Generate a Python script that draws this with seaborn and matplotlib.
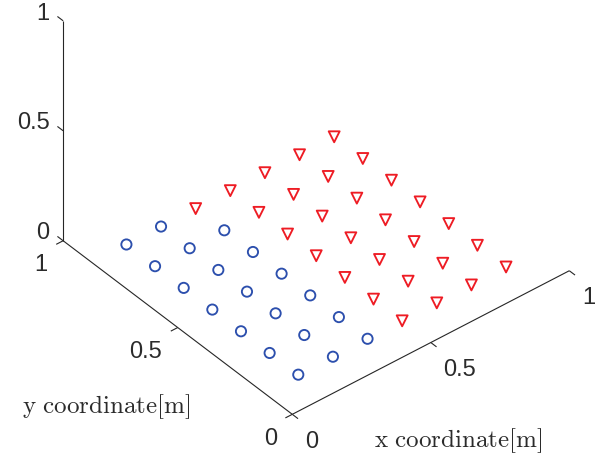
import numpy as np
import matplotlib
matplotlib.use("Agg")
import matplotlib.pyplot as plt
import seaborn as sns
from matplotlib.transforms import offset_copy
from mpl_toolkits.mplot3d import proj3d

sns.set_theme(style="white")
plt.rcParams["font.family"] = ["Liberation Sans", "DejaVu Sans"]
plt.rcParams["mathtext.fontset"] = "cm"

# Node positions on the floor plane (m), grouped by class
circle_x = [0.125, 0.250, 0.375, 0.125, 0.250, 0.375, 0.125, 0.250, 0.375,
            0.125, 0.250, 0.375, 0.125, 0.250, 0.375, 0.125, 0.250, 0.375,
            0.125, 0.250]
circle_y = [0.125, 0.125, 0.125, 0.250, 0.250, 0.250, 0.375, 0.375, 0.375,
            0.500, 0.500, 0.500, 0.625, 0.625, 0.625, 0.750, 0.750, 0.750,
            0.875, 0.875]
circle_z = [0.0] * len(circle_x)

tri_x = [0.500, 0.625, 0.750, 0.875, 0.500, 0.625, 0.750, 0.875,
         0.500, 0.625, 0.750, 0.875, 0.500, 0.625, 0.750, 0.875,
         0.500, 0.625, 0.750, 0.875, 0.500, 0.625, 0.750, 0.875,
         0.375, 0.500, 0.625, 0.750, 0.875]
tri_y = [0.125, 0.125, 0.125, 0.125, 0.250, 0.250, 0.250, 0.250,
         0.375, 0.375, 0.375, 0.375, 0.500, 0.500, 0.500, 0.500,
         0.625, 0.625, 0.625, 0.625, 0.750, 0.750, 0.750, 0.750,
         0.875, 0.875, 0.875, 0.875, 0.875]
tri_z = [0.0] * len(tri_x)

ticks = [0.0, 0.5, 1.0]
tick_labels = ["0", "0.5", "1"]

blue, red = sns.color_palette(["#2c4fad", "#ee1c24"])
axis_color = "#262626"
text_color = "#2b2b2b"

fig = plt.figure(figsize=(6.05, 4.62), dpi=100)
ax = fig.add_axes([0, 0, 1, 1], projection="3d", proj_type="ortho")
ax.view_init(elev=38.8, azim=-129.6)
ax.set_box_aspect((1, 1, 0.785))

ax.scatter(circle_x, circle_y, circle_z, marker="o", s=54, facecolors="none",
           edgecolors=[blue], linewidths=1.35, depthshade=False)
ax.scatter(tri_x, tri_y, tri_z, marker="v", s=62, facecolors="none",
           edgecolors=[red], linewidths=1.35, depthshade=False)

# axis lines: x along y=0, y along x=0, z standing at the back-left corner
line_kw = dict(color=axis_color, lw=0.8, solid_capstyle="butt")
ax.plot([0, 1], [0, 0], [0, 0], **line_kw)
ax.plot([0, 0], [0, 1], [0, 0], **line_kw)
ax.plot([0, 0], [1, 1], [0, 1], **line_kw)

tl = 0.025
for t in ticks:
    ax.plot([t, t], [0, -tl], [0, 0], **line_kw)       # x ticks
    ax.plot([0, -tl], [t, t], [0, 0], **line_kw)       # y ticks
    ax.plot([0, 0], [1, 1 + tl], [t, t], **line_kw)    # z ticks

ax.set_xlim(0, 1)
ax.set_ylim(0, 1)
ax.set_zlim(0, 1)
ax.set_axis_off()
for ttl in (ax.title, ax._left_title, ax._right_title):
    ttl.set_visible(False)

# scale and place the 3D box inside the figure
fig.canvas.draw()
W, H = fig.canvas.get_width_height()
corners = np.array([[0, 0, 0], [1, 0, 0], [0, 1, 0], [0, 1, 1]], dtype=float)
goal_px = np.array([[292.6, 414.2], [569.3, 270.7], [63.3, 240.7], [62.7, 21.0]])
goal = np.column_stack([goal_px[:, 0], H - goal_px[:, 1]])
px, py, _ = proj3d.proj_transform(corners[:, 0], corners[:, 1], corners[:, 2], ax.M)
cur = ax.transData.transform(np.column_stack([px, py]))
cm, gm = cur.mean(0), goal.mean(0)
a = ((cur - cm) * (goal - gm)).sum() / ((cur - cm) ** 2).sum()
b = gm - a * cm
pos = ax.get_position()
L = np.array([pos.x0 * W, pos.y0 * H])
newL = a * L + b
ax.set_position([newL[0] / W, newL[1] / H, a * pos.width, a * pos.height])


def tick_text(x, y, z, s, dx, dy, ha):
    tr = offset_copy(ax.transData, fig=fig, x=dx, y=dy, units="dots")
    ax.text(x, y, z, s, transform=tr, ha=ha, va="center", fontsize=17,
            color=text_color)


for t, lab in zip(ticks, tick_labels):
    tick_text(t, 0, 0, lab, 12.5, -27.5, "left")
    tick_text(0, t, 0, lab, -15.5, -24.5, "right")
    tick_text(0, 1, t, lab, -13.5, 7.3, "right")

fig.text(458 / W, 1 - 441 / H, r"$\mathrm{x\ coordinate[m]}$", ha="center",
         va="center", fontsize=18, color=text_color)
fig.text(106 / W, 1 - 407 / H, r"$\mathrm{y\ coordinate[m]}$", ha="center",
         va="center", fontsize=18, color=text_color)

fig.savefig("out.png", dpi=100)
